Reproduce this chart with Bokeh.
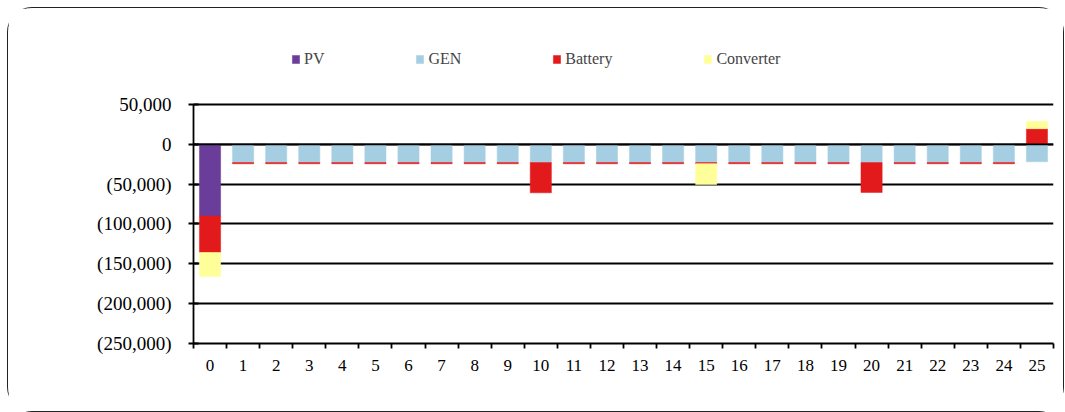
import numpy as np
from bokeh.plotting import figure
from bokeh.models import (ColumnDataSource, FixedTicker, NumeralTickFormatter,
                          Legend, LegendItem, Span, Range1d)
from bokeh.embed import file_html
from bokeh.resources import INLINE

years = list(range(26))
year_labels = [str(y) for y in years]

pv = [-90000] + [-400] * 25
gen = [0] + [-22500] * 24 + [-21500]
battery = ([-45800] + [-1500] * 9 + [-38000] + [-1500] * 9 + [-37500]
           + [-1500] * 4 + [19600])
converter = ([-30000] + [0] * 14 + [-26000] + [0] * 9 + [9000])

series_names = ["PV", "GEN", "Battery", "Converter"]
series_values = [pv, gen, battery, converter]
series_colors = ["#6A3D9A", "#A6CEE3", "#E31A1C", "#FFFF99"]

y_ticks = [50000, 0, -50000, -100000, -150000, -200000, -250000]

FONT = "Liberation Serif"
W, H = 1057, 405

p = figure(width=W, height=H, output_backend="svg", toolbar_location=None,
           x_range=Range1d(-0.5, 25.5), y_range=Range1d(-250000, 141600),
           min_border_left=185, min_border_right=12, min_border_top=23,
           min_border_bottom=70)
p.styles = {"margin": "7px 0 0 7px", "border": "1.5px solid #222222",
            "border-radius": "25px", "box-sizing": "border-box"}
p.outline_line_color = None
p.background_fill_color = "white"

pos_base = np.zeros(len(years))
neg_base = np.zeros(len(years))
renderers = []
for name, vals, col in zip(series_names, series_values, series_colors):
    v = np.array(vals, dtype=float)
    bottom = np.where(v >= 0, pos_base, neg_base)
    top = bottom + v
    pos_base = np.where(v >= 0, top, pos_base)
    neg_base = np.where(v < 0, top, neg_base)
    src = ColumnDataSource(dict(x=years, top=top, bottom=bottom))
    r = p.vbar(x="x", top="top", bottom="bottom", width=0.64, source=src,
               fill_color=col, line_color=col, line_width=0.5)
    renderers.append(r)

p.add_layout(Span(location=0, dimension="width", line_color="black",
                  line_width=1.8, level="overlay"))

# grid
p.xgrid.visible = False
p.ygrid.ticker = FixedTicker(ticks=y_ticks)
p.ygrid.grid_line_color = "black"
p.ygrid.grid_line_width = 1.8

# y axis
p.yaxis.ticker = FixedTicker(ticks=y_ticks)
p.yaxis.bounds = (-250000, 50000)
p.yaxis.formatter = NumeralTickFormatter(format="(0,0)")
p.yaxis.axis_line_color = "black"
p.yaxis.axis_line_width = 1.8
p.yaxis.major_tick_in = 5
p.yaxis.major_tick_out = 5
p.yaxis.major_tick_line_width = 1.8
p.yaxis.minor_tick_line_color = None
p.yaxis.major_label_text_font = FONT
p.yaxis.major_label_text_font_size = "19px"
p.yaxis.major_label_text_color = "black"
p.yaxis.major_label_standoff = 17

# x axis
p.xaxis.ticker = FixedTicker(ticks=years,
                             minor_ticks=[y + 0.5 for y in range(-1, 26)])
p.xaxis.major_label_overrides = {y: l for y, l in zip(years, year_labels)}
p.xaxis.axis_line_color = "black"
p.xaxis.axis_line_width = 1.8
p.xaxis.major_tick_line_color = None
p.xaxis.minor_tick_in = 0
p.xaxis.minor_tick_out = 5
p.xaxis.minor_tick_line_width = 1.8
p.xaxis.minor_tick_line_color = "black"
p.xaxis.major_label_text_font = FONT
p.xaxis.major_label_text_font_size = "17px"
p.xaxis.major_label_text_color = "black"
p.xaxis.major_label_standoff = 10

legend = Legend(items=[LegendItem(label=n, renderers=[r])
                       for n, r in zip(series_names, renderers)],
                orientation="horizontal", location=(98, 275),
                glyph_width=9, glyph_height=10, label_standoff=4, spacing=91,
                label_text_font=FONT, label_text_font_size="16px",
                border_line_color=None, background_fill_alpha=0,
                padding=0, margin=0)
p.add_layout(legend)

open("out.html", "w").write(file_html(p, INLINE))
